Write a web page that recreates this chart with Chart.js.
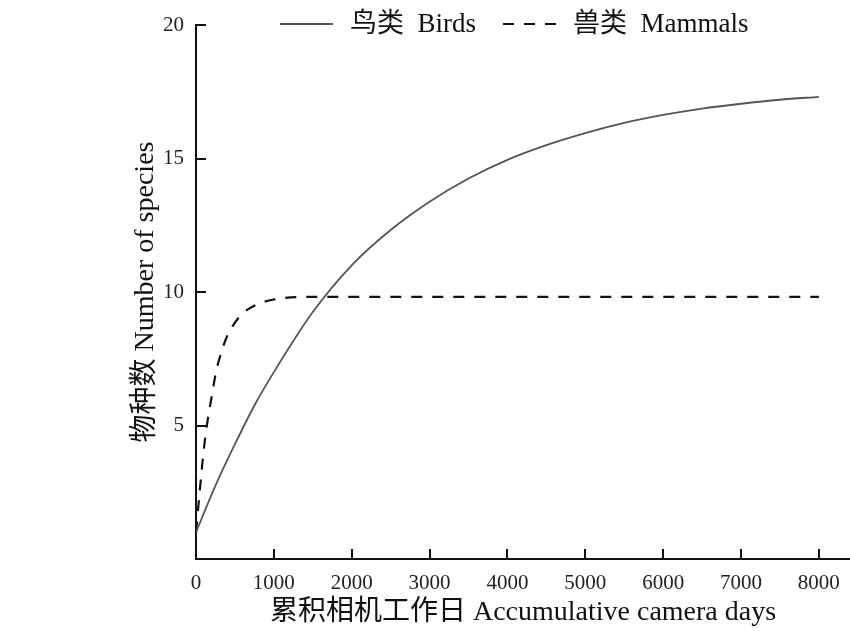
<!DOCTYPE html>
<html>
<head>
<meta charset="utf-8">
<script src="https://cdn.jsdelivr.net/npm/chart.js@4/dist/chart.umd.min.js"></script>
<style>
  html, body { margin: 0; padding: 0; background: #fff; }
  #wrap { width: 850px; height: 631px; }
</style>
</head>
<body>
<div id="wrap"><canvas id="curve"></canvas></div>
<script>
// Species accumulation data
var birdDays = [0, 250, 500, 750, 1000, 1500, 2000, 2500, 3000, 3500, 4000, 4500, 5000, 5500, 6000, 6500, 7000, 7500, 8000];
var birdSpecies = [1.0, 2.75, 4.3, 5.75, 7.0, 9.25, 11.0, 12.32, 13.38, 14.25, 14.95, 15.5, 15.95, 16.33, 16.63, 16.87, 17.05, 17.2, 17.31];

var mammalDays = [0, 50, 100, 150, 200, 250, 300, 400, 500, 600, 800, 1000, 1500, 8000];
var mammalSpecies = [1.0, 2.6, 4.1, 5.2, 6.05, 6.9, 7.5, 8.35, 8.85, 9.2, 9.55, 9.72, 9.82, 9.82];

var xTickValues = [0, 1000, 2000, 3000, 4000, 5000, 6000, 7000, 8000];
var yTickValues = [5, 10, 15, 20];

var seriesLabels = ['鸟类  Birds', '兽类  Mammals'];
var xTitle = '累积相机工作日 Accumulative camera days';
var yTitle = '物种数 Number of species';

var serif = '"Liberation Serif", "Times New Roman", "Noto Sans CJK SC", serif';

function toPoints(xs, ys) {
    return xs.map(function(x, i) { return { x: x, y: ys[i] }; });
}

// Ticks point inward, into the plot area
var inwardTicks = {
    id: 'inwardTicks',
    afterDatasetsDraw: function(chart) {
        var ctx = chart.ctx;
        var xs = chart.scales.x, ys = chart.scales.y;
        var len = 10;
        ctx.save();
        ctx.strokeStyle = '#111';
        ctx.lineWidth = 2;
        ctx.beginPath();
        xTickValues.forEach(function(v) {
            var px = Math.round(xs.getPixelForValue(v));
            ctx.moveTo(px, xs.top);
            ctx.lineTo(px, xs.top - len);
        });
        yTickValues.forEach(function(v) {
            var py = Math.round(ys.getPixelForValue(v));
            ctx.moveTo(ys.right, py);
            ctx.lineTo(ys.right + len, py);
        });
        ctx.stroke();
        ctx.restore();
    }
};

// Legend drawn over the top of the plot, like the original figure
var topLegend = {
    id: 'topLegend',
    afterDraw: function(chart) {
        var ctx = chart.ctx;
        var y = 24;
        var x = chart.chartArea.left + 84;
        ctx.save();
        ctx.font = '27px ' + serif;
        ctx.textBaseline = 'middle';
        ctx.fillStyle = '#111';
        chart.data.datasets.forEach(function(ds) {
            ctx.strokeStyle = ds.borderColor;
            ctx.lineWidth = ds.borderWidth;
            ctx.setLineDash(ds.borderDash || []);
            ctx.beginPath();
            ctx.moveTo(x, y);
            ctx.lineTo(x + 53, y);
            ctx.stroke();
            ctx.setLineDash([]);
            ctx.fillText(ds.label, x + 70, y + 1);
            x += 70 + ctx.measureText(ds.label).width + 27;
        });
        ctx.restore();
    }
};

var ctx = document.getElementById('curve').getContext('2d');
var chart = new Chart(ctx, {
    type: 'line',
    data: {
        datasets: [
            {
                label: seriesLabels[0],
                data: toPoints(birdDays, birdSpecies),
                borderColor: '#555',
                borderWidth: 1.8,
                cubicInterpolationMode: 'monotone',
                pointRadius: 0,
                fill: false
            },
            {
                label: seriesLabels[1],
                data: toPoints(mammalDays, mammalSpecies),
                borderColor: '#111',
                borderWidth: 2.2,
                borderDash: [11, 10],
                cubicInterpolationMode: 'monotone',
                pointRadius: 0,
                fill: false
            }
        ]
    },
    options: {
        responsive: true,
        maintainAspectRatio: false,
        animation: false,
        layout: { padding: { top: 25, right: 0, bottom: 0, left: 0 } },
        plugins: {
            legend: { display: false },
            tooltip: { enabled: false }
        },
        scales: {
            x: {
                type: 'linear',
                min: 0,
                max: 8400,
                afterBuildTicks: function(s) {
                    s.ticks = xTickValues.map(function(v) { return { value: v }; });
                },
                afterFit: function(s) {
                    s.height = 72;
                    s.paddingRight = 0;
                    s.paddingLeft = 0;
                },
                grid: { drawOnChartArea: false, drawTicks: false },
                border: { display: true, color: '#111', width: 2 },
                ticks: {
                    padding: 12,
                    color: '#222',
                    maxRotation: 0,
                    callback: function(v) { return String(v); },
                    font: { family: serif, size: 21 }
                },
                title: {
                    display: true,
                    text: xTitle,
                    color: '#111',
                    padding: { top: 0, bottom: 2 },
                    font: { family: serif, size: 28 }
                }
            },
            y: {
                min: 0,
                max: 20,
                afterBuildTicks: function(s) {
                    s.ticks = yTickValues.map(function(v) { return { value: v }; });
                },
                afterFit: function(s) { s.width = 196; },
                grid: { drawOnChartArea: false, drawTicks: false },
                border: { display: true, color: '#111', width: 2 },
                ticks: {
                    padding: 12,
                    color: '#222',
                    callback: function(v) { return String(v); },
                    font: { family: serif, size: 21 }
                },
                title: {
                    display: true,
                    text: yTitle,
                    color: '#111',
                    padding: { top: 129, bottom: 0 },
                    font: { family: serif, size: 28 }
                }
            }
        }
    },
    plugins: [inwardTicks, topLegend]
});
</script>
</body>
</html>
